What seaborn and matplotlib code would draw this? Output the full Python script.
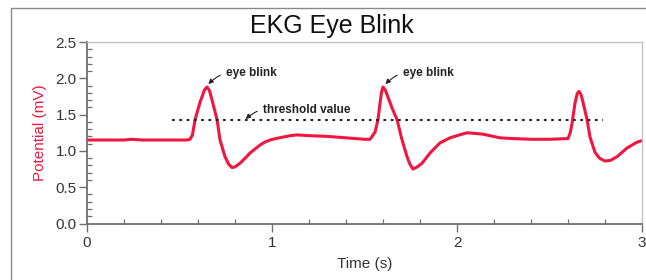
import matplotlib
matplotlib.use("Agg")
import matplotlib.pyplot as plt
from matplotlib.lines import Line2D
from matplotlib.ticker import MultipleLocator, FormatStrFormatter
import seaborn as sns
import pandas as pd

# ---- data ----
time_s = [0.00, 0.10, 0.20, 0.24, 0.30, 0.40, 0.50, 0.54, 0.557, 0.57, 0.584, 0.611,
          0.635, 0.649, 0.662, 0.676, 0.703, 0.719, 0.746, 0.765, 0.784, 0.80, 0.827,
          0.855, 0.881, 0.91, 0.935, 0.96, 0.989, 1.02, 1.059, 1.10, 1.135, 1.20, 1.30,
          1.40, 1.50, 1.530, 1.557, 1.573, 1.584, 1.592, 1.600, 1.612, 1.627, 1.649,
          1.676, 1.703, 1.730, 1.745, 1.762, 1.785, 1.811, 1.854, 1.908, 1.962, 2.00,
          2.054, 2.10, 2.141, 2.232, 2.30, 2.40, 2.50, 2.600, 2.612, 2.622, 2.638,
          2.650, 2.659, 2.670, 2.681, 2.703, 2.719, 2.746, 2.77, 2.800, 2.83, 2.865,
          2.919, 2.973, 3.00]
potential_mv = [1.15, 1.15, 1.15, 1.16, 1.15, 1.15, 1.15, 1.15, 1.16, 1.22, 1.43, 1.67,
                1.84, 1.88, 1.83, 1.70, 1.43, 1.15, 0.92, 0.82, 0.77, 0.78, 0.83,
                0.90, 0.97, 1.03, 1.08, 1.12, 1.15, 1.17, 1.19, 1.21, 1.22, 1.21, 1.20,
                1.18, 1.16, 1.16, 1.26, 1.43, 1.66, 1.81, 1.88, 1.84, 1.74, 1.59,
                1.43, 1.15, 0.92, 0.82, 0.75, 0.78, 0.83, 0.97, 1.11, 1.18, 1.21,
                1.25, 1.24, 1.23, 1.18, 1.17, 1.16, 1.16, 1.17, 1.25, 1.38, 1.66,
                1.79, 1.82, 1.78, 1.67, 1.43, 1.19, 0.98, 0.90, 0.86, 0.87, 0.92,
                1.04, 1.12, 1.14]

threshold_value = 1.42
threshold_start = 0.46
threshold_end = 2.79

blink_labels = ["eye blink", "eye blink"]
blink_peaks = [(0.656, 1.92), (1.613, 1.92)]
blink_text_pos = [(0.752, 2.07), (1.708, 2.07)]
threshold_label = "threshold value"
threshold_point = (0.857, 1.44)
threshold_text_pos = [0.951, 1.56]

title = "EKG Eye Blink"
x_label = "Time (s)"
y_label = "Potential (mV)"

# ---- style ----
sns.set_style("ticks")
plt.rcParams["font.family"] = ["Liberation Sans", "DejaVu Sans"]

RED = "#f0163f"
GRAY = "#6e6e6e"

fig = plt.figure(figsize=(6.46, 2.80), dpi=100)
ax = fig.add_axes([87 / 646, 1 - 223.5 / 280, (642 - 87) / 646, (223.5 - 42) / 280])

df = pd.DataFrame({"time": time_s, "potential": potential_mv})
sns.lineplot(data=df, x="time", y="potential", ax=ax, color=RED, lw=2.2,
             estimator=None, sort=False)

ax.hlines(threshold_value, threshold_start, threshold_end, colors="#222222",
          linestyles=(0, (1.3, 2.2)), lw=1.5)

arrow_kw = dict(arrowstyle="-|>", color="#222222", lw=0.8,
                connectionstyle="arc3,rad=0.3",
                shrinkA=2, shrinkB=0, mutation_scale=7)
for lab, xy, xt in zip(blink_labels, blink_peaks, blink_text_pos):
    ax.annotate(lab, xy=xy, xytext=xt, fontsize=8.5, fontweight="bold",
                ha="left", va="center", color="#222222", arrowprops=arrow_kw)
ax.annotate(threshold_label, xy=threshold_point, xytext=threshold_text_pos,
            fontsize=8.5, fontweight="bold", ha="left", va="center", color="#222222",
            arrowprops=arrow_kw)

ax.set_xlim(0, 3)
ax.set_ylim(0, 2.5)
ax.xaxis.set_major_locator(MultipleLocator(1))
ax.xaxis.set_minor_locator(MultipleLocator(0.2))
ax.yaxis.set_major_locator(MultipleLocator(0.5))
ax.yaxis.set_minor_locator(MultipleLocator(0.1))
ax.yaxis.set_major_formatter(FormatStrFormatter("%.1f"))
ax.xaxis.set_major_formatter(FormatStrFormatter("%d"))

ax.tick_params(which="major", direction="out", length=6, width=1.0, color=GRAY,
               labelsize=11, labelcolor="#333333", pad=1.5)
ax.tick_params(which="minor", direction="in", length=3.5, width=0.9, color=GRAY)
ax.tick_params(axis="x", which="major", pad=3)

for side in ["left", "bottom"]:
    ax.spines[side].set_color(GRAY)
    ax.spines[side].set_linewidth(1.3)
for side in ["top", "right"]:
    ax.spines[side].set_visible(True)
    ax.spines[side].set_color("#c4c4c4")
    ax.spines[side].set_linewidth(1.0)

ax.set_xlabel(x_label, fontsize=11, color="#333333", labelpad=5)
ax.set_ylabel(y_label, fontsize=11, color=RED, labelpad=6)

fig.text(332 / 646, 1 - 32.5 / 280, title, ha="center", va="baseline",
         fontsize=18, color="#111111")

# outer frame
fig.add_artist(Line2D([11 / 646, 11 / 646], [0, 1 - 8 / 280],
                      transform=fig.transFigure, color="#8a8a8a", lw=1.0))
fig.add_artist(Line2D([11 / 646, 1], [1 - 8 / 280, 1 - 8 / 280],
                      transform=fig.transFigure, color="#8a8a8a", lw=1.0))

fig.savefig("out.png", dpi=100)
